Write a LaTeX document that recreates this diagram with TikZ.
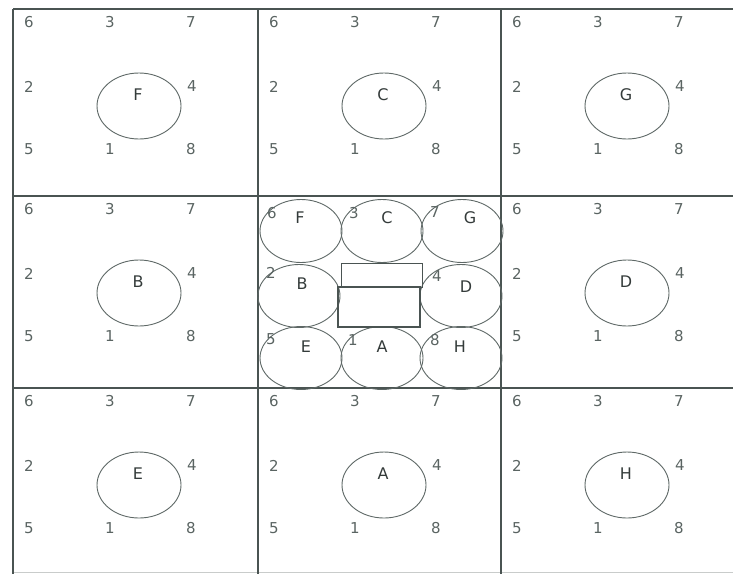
\documentclass[tikz,border=0pt]{standalone}
\usepackage{fontspec}
\setmainfont{DejaVu Sans}
\usetikzlibrary{positioning,shapes.geometric}
\definecolor{gridgrey}{HTML}{4A5452}
\definecolor{digitgrey}{HTML}{5A6462}
\definecolor{ringgrey}{HTML}{5E6866}
\definecolor{inkgrey}{HTML}{343B3A}

\begin{document}
\begin{tikzpicture}[x=1pt, y=-1pt,
    every node/.style={inner sep=0pt},
    gridline/.style={gridgrey, line width=1.8pt},
    faintline/.style={gridgrey!30, line width=0.8pt},
    digit/.style={text=digitgrey, font=\fontsize{15}{15}\selectfont},
    cupname/.style={text=inkgrey, font=\fontsize{16}{16}\selectfont},
    cup/.style={ellipse, draw=ringgrey, line width=0.9pt,
      minimum width=84pt, minimum height=66pt},
    hubcup/.style={cup, minimum width=82pt, minimum height=63pt},
    slot/.style={draw=gridgrey, line width=0.9pt, minimum width=81pt, minimum height=24pt},
    slotbase/.style={draw=gridgrey, line width=1.6pt, minimum width=82pt, minimum height=40pt}
  ]
  \useasboundingbox (0,0) rectangle (733,574);

  % grid of the nine cells
  \draw[faintline] (13,572) -- (733,572);
  \foreach \y in {9,196,388} {\draw[gridline] (13,\y) -- (733,\y);}
  \foreach \x in {13,258,501} {\draw[gridline] (\x,9) -- (\x,574);}

  % outer cells: one cup and the eight positions
  \foreach \ltr/\cx/\cy in {F/13/9, C/258/9, G/501/9, B/13/196, D/501/196,
                            E/13/388, A/258/388, H/501/388} {
    \node[cup] (ring\ltr) at (\cx+126, \cy+97) {};
    \node[cupname] (name\ltr) at (\cx+125, \cy+86) {\ltr};
    \foreach \d/\dx/\dy in {6/16/13, 3/97/13, 7/178/13, 2/16/78, 4/179/77,
                            5/16/140, 1/97/140, 8/178/140}
      {\node[digit] (pos\ltr\d) at (\cx+\dx, \cy+\dy) {\d};}
  }

  % centre cell: the eight cups round the two slots
  \foreach \ltr/\hx/\hy/\lx/\ly in {F/301/231/300/218, C/382/231/387/218,
      G/462/231/470/218, B/299/296/302/284, D/461/296/466/287,
      E/301/358/306/347, A/382/358/382/347, H/461/358/460/347} {
    \node[hubcup] (hub\ltr) at (\hx,\hy) {};
    \node[cupname] (hubname\ltr) at (\lx,\ly) {\ltr};
  }
  \node[slot] (lid) at (381.5,275) {};
  \node[slotbase] (base) at (379,307) {};

  \foreach \d/\dx/\dy in {6/272/213, 3/354/213, 7/435/212, 2/271/273,
                          4/437/276, 5/271/339, 1/353/340, 8/435/340}
    {\node[digit] (hubpos\d) at (\dx,\dy) {\d};}

\end{tikzpicture}
\end{document}
